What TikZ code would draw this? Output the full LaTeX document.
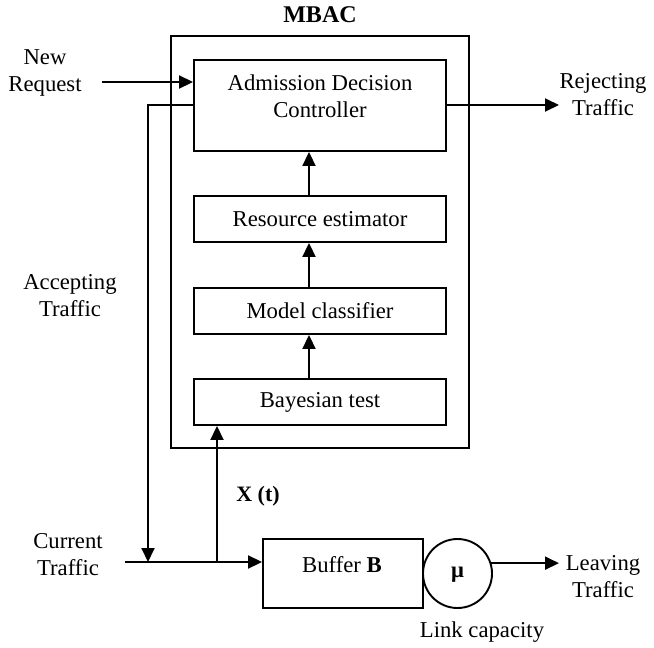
\documentclass[tikz,border=0pt]{standalone}
\usepackage{fontspec}
\setmainfont{Liberation Serif}
\usetikzlibrary{arrows.meta}
\begin{document}
\begin{tikzpicture}[x=1pt,y=-1pt,
  every node/.style={font=\fontsize{22.7}{27}\selectfont},
  box/.style={draw,line width=1.9pt,minimum width=252pt,minimum height=46pt,inner sep=0pt},
  lbl/.style={align=center,inner sep=0pt},
  arr/.style={line width=1.9pt,-{Triangle[length=14pt,width=13pt]}}]
\useasboundingbox (0,0) rectangle (654,648);
% boxes
\node[box,minimum width=298pt,minimum height=412pt] (mbac) at (320,242) {};
\node[box,minimum height=91pt] (adc) at (320,105.5) {};
\node[box] (res) at (320,219) {Resource estimator};
\node[box] (mod) at (320,311) {Model classifier};
\node[box] (bay) at (320,402) {Bayesian test};
\node[box,minimum width=160pt,minimum height=69pt] (buf) at (343,573.5) {};
\node[draw,circle,line width=1.9pt,minimum size=69pt,inner sep=0pt] (mu) at (457.5,573.5) {};
% texts
\node[lbl] (adct) at (320,96) {Admission Decision\\Controller};
\node[lbl] (buft) at (342,565) {Buffer \textbf{B}};
\node[lbl] (mut) at (457.5,575) {\textbf{μ}};
\node[lbl,font=\fontsize{24}{27}\selectfont\bfseries] (mbact) at (320,15) {MBAC};
\node[lbl] (nrt) at (45,73) {New\\Request};
\node[lbl] (rjt) at (603,95) {Rejecting\\Traffic};
\node[lbl] (act) at (70,296) {Accepting\\Traffic};
\node[lbl] (ctt) at (68,555) {Current\\Traffic};
\node[lbl,font=\fontsize{22}{27}\selectfont\bfseries] (xtt) at (258,496) {X (t)};
\node[lbl] (lvt) at (603,577) {Leaving\\Traffic};
\node[lbl] (lct) at (482,632) {Link capacity};
% coordinates
\coordinate (nr) at (102,82);
\coordinate (acc) at (194,105);
\coordinate (acc2) at (148,105);
\coordinate (j1) at (148,562);
\coordinate (ct) at (125,562);
\coordinate (xt) at (217,562);
\coordinate (rej) at (559,105);
\coordinate (lv) at (559,563);
% connectors
\draw[arr] (nr) -- (nr -| adc.west);
\draw[arr] (acc -| adc.west) -- (acc2) -- (j1);
\draw[arr] (ct) -- (ct -| buf.west);
\draw[arr] (xt) -- (xt |- bay.south);
\draw[arr] (rej -| adc.east) -- (rej);
\draw[arr] (mu.17) -- (mu.17 -| lv);
\draw[arr] ([xshift=-11pt]bay.north) -- ([xshift=-11pt]mod.south);
\draw[arr] ([xshift=-11pt]mod.north) -- ([xshift=-11pt]res.south);
\draw[arr] ([xshift=-11pt]res.north) -- ([xshift=-11pt]adc.south);
\end{tikzpicture}
\end{document}
